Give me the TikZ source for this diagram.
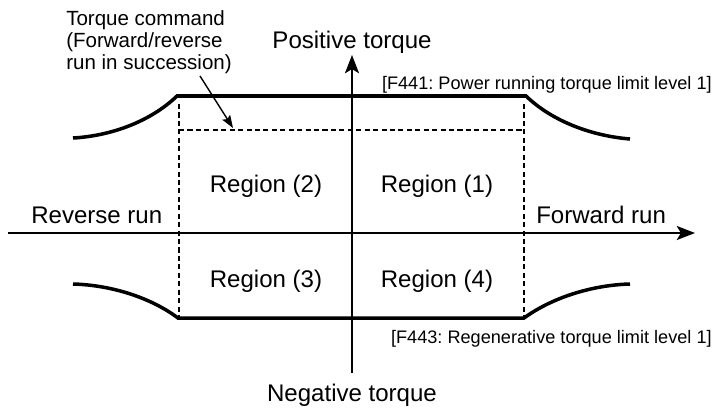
\documentclass[tikz,border=0pt]{standalone}
\usepackage{fontspec}
\setmainfont{Liberation Sans}
\usepackage{tikz}
\usetikzlibrary{arrows.meta,positioning,calc}
\frenchspacing

\begin{document}
\begin{tikzpicture}[
  x=0.025cm, y=-0.025cm,
  big/.style={font=\fontsize{17.1}{20}\selectfont, inner sep=0pt},
  note/.style={font=\fontsize{14.6}{15.6}\selectfont, inner sep=0pt, align=left},
  lim/.style={font=\fontsize{12.9}{15}\selectfont, inner sep=0pt},
  axis/.style={line width=1.5pt, -{Stealth[length=13pt,width=10pt,inset=3pt]}},
  limit/.style={line width=2.5pt},
  cmdline/.style={line width=1.7pt, dash pattern=on 3.6pt off 2.4pt},
  arr/.style={line width=1pt, -{Stealth[length=9pt,width=6.5pt,inset=1.5pt]}}
]
  \useasboundingbox (0,0) rectangle (720,408);

  % axes
  \coordinate (xl) at (8,233);
  \coordinate (xr) at (695,233);
  \coordinate (yb) at (352,373);
  \coordinate (yt) at (352,55);
  \draw[axis] (xl) -- (xr);
  \draw[axis] (yb) -- (yt);

  % torque limits
  \draw[limit] (73,138) .. controls (110,136) and (150,122) .. (177,96)
    -- (526,96) .. controls (553,122) and (593,136) .. (630,139);
  \draw[limit] (73,284) .. controls (110,285) and (150,297) .. (178,318)
    -- (524,318) .. controls (553,297) and (593,285) .. (630,284);

  % torque command
  \draw[cmdline] (179,104) -- (179,318);
  \draw[cmdline] (524,104) -- (524,318);
  \draw[cmdline] (179,130) -- (524,130);

  \node[big, anchor=base] (pos) at (352,48) {Positive torque};
  \node[big, anchor=base] (neg) at (352,401) {Negative torque};
  \node[big, anchor=base west] (rev) at (31,223) {Reverse run};
  \node[big, anchor=base west] (fwd) at (536,223) {Forward run};
  \node[big, anchor=base] (reg2) at (266,192) {Region (2)};
  \node[big, anchor=base] (reg1) at (437,192) {Region (1)};
  \node[big, anchor=base] (reg3) at (266,287) {Region (3)};
  \node[big, anchor=base] (reg4) at (437,287) {Region (4)};
  \node[lim, anchor=base east] (lim1) at (712,89) {[F441: Power running torque limit level 1]};
  \node[lim, anchor=base east] (lim3) at (712,343) {[F443: Regenerative torque limit level 1]};
  \node[note, anchor=north west] (cmd) at (66,10)
    {Torque command\\(Forward/reverse\\run in succession)};

  \coordinate (cmdfoot) at (200,76);
  \coordinate (cmdtip) at (233,128);
  \draw[arr] (cmdfoot) -- (cmdtip);
\end{tikzpicture}
\end{document}
